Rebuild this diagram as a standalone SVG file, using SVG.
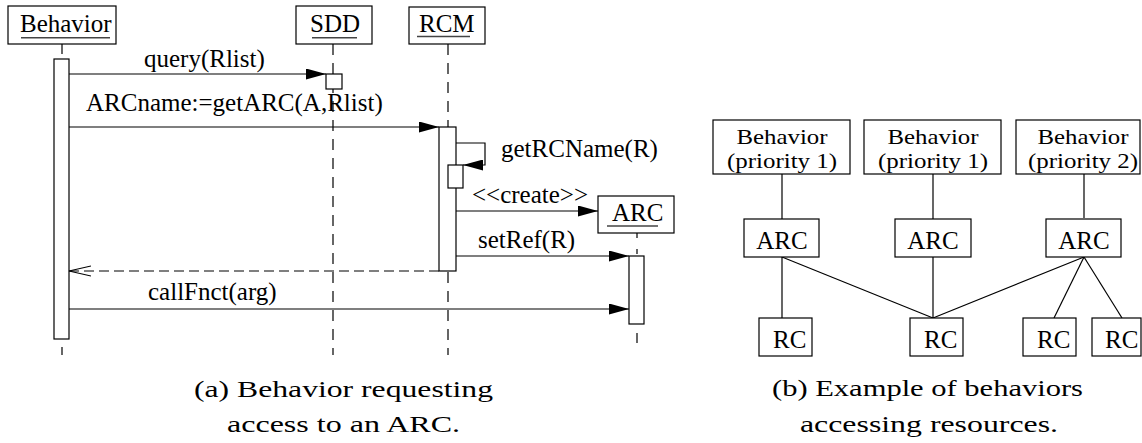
<svg xmlns="http://www.w3.org/2000/svg" width="1142" height="443" viewBox="0 0 1142 443">
  <style>
    .box { fill: #fff; stroke: #000; stroke-width: 1.2; }
    .bar { fill: #fff; stroke: #000; stroke-width: 1.2; }
    .t { font-family: "Liberation Serif", "Times New Roman", serif; font-size: 25px; fill: #000; }
    .tc { font-family: "Liberation Serif", "Times New Roman", serif; font-size: 25px; fill: #000; text-anchor: middle; }
    .tb { font-family: "Liberation Serif", "Times New Roman", serif; font-size: 22px; fill: #000; text-anchor: middle; }
    .cap { font-family: "Liberation Serif", "Times New Roman", serif; font-size: 23px; fill: #000; text-anchor: middle; }
    .ul { stroke: #444; stroke-width: 1.6; }
    .life { stroke: #000; stroke-width: 1.2; stroke-dasharray: 11 8; fill: none; }
    .msg { stroke: #000; stroke-width: 1.2; fill: none; }
    .ret { stroke: #000; stroke-width: 1.2; fill: none; stroke-dasharray: 10 5; }
    .link { stroke: #000; stroke-width: 1.2; fill: none; }
  </style>
  <defs>
    <marker id="solid" viewBox="0 0 20 11" refX="20" refY="5.5" markerWidth="20" markerHeight="11" markerUnits="userSpaceOnUse" orient="auto">
      <path d="M0,0 L20,5.5 L0,11 z" fill="#000"/>
    </marker>
    <marker id="open" viewBox="0 0 24 12" refX="22" refY="6" markerWidth="24" markerHeight="12" markerUnits="userSpaceOnUse" orient="auto">
      <path d="M0,1 L22,6 L0,11" fill="none" stroke="#000" stroke-width="1.2"/>
    </marker>
  </defs>

  <!-- (a) sequence diagram: lifelines drawn first, activation bars on top -->
  <g id="lifelines">
    <line class="msg" x1="62" y1="44" x2="62" y2="54"/>
    <line class="msg" x1="62" y1="347" x2="62" y2="355"/>
    <line class="life" x1="333" y1="44" x2="333" y2="355"/>
    <line class="life" x1="448" y1="44" x2="448" y2="355"/>
    <line class="life" x1="637" y1="233" x2="637" y2="256" style="stroke-dasharray:5 11"/>
    <line class="msg" x1="637" y1="333" x2="637" y2="343"/>
  </g>

  <g id="behavior">
    <rect class="box" x="8" y="6" width="108" height="38"/>
    <text class="t" x="20" y="32">Behavior</text>
    <line class="ul" x1="21" y1="37.7" x2="110" y2="37.7"/>
    <rect class="bar" x="54" y="59" width="15" height="280"/>
  </g>

  <g id="sdd">
    <rect class="box" x="296" y="6" width="76" height="38"/>
    <text class="t" x="310" y="32">SDD</text>
    <line class="ul" x1="312" y1="37.7" x2="357" y2="37.7"/>
    <rect class="bar" x="326" y="74" width="16" height="15"/>
  </g>

  <g id="rcm">
    <rect class="box" x="409" y="7" width="76" height="37"/>
    <text class="t" x="419" y="32">RCM</text>
    <line class="ul" x1="417" y1="36.5" x2="470" y2="36.5"/>
    <rect class="bar" x="439" y="127" width="17" height="144"/>
    <rect class="bar" x="448" y="165" width="15" height="23"/>
  </g>

  <g id="arc">
    <rect class="box" x="598" y="196" width="76" height="37"/>
    <text class="t" x="612" y="221">ARC</text>
    <line class="ul" x1="607" y1="226" x2="658" y2="226"/>
    <rect class="bar" x="629" y="256" width="15" height="68"/>
  </g>

  <g id="messages">
    <line class="msg" x1="69" y1="74" x2="326" y2="74" marker-end="url(#solid)"/>
    <line class="msg" x1="69" y1="127" x2="439" y2="127" marker-end="url(#solid)"/>
    <path class="msg" d="M456,143 H485 V165 H463" marker-end="url(#solid)"/>
    <line class="msg" x1="456" y1="211" x2="598" y2="211" marker-end="url(#solid)"/>
    <line class="msg" x1="456" y1="256" x2="629" y2="256" marker-end="url(#solid)"/>
    <line class="ret" x1="439" y1="271" x2="69" y2="271" marker-end="url(#open)"/>
    <line class="msg" x1="69" y1="309" x2="629" y2="309" marker-end="url(#solid)"/>
  </g>

  <g id="message-labels">
    <text class="t" x="144" y="67">query(Rlist)</text>
    <text class="t" x="86" y="111">ARCname:=getARC(A,Rlist)</text>
    <text class="t" x="501" y="157">getRCName(R)</text>
    <text class="t" x="472" y="203">&lt;&lt;create&gt;&gt;</text>
    <text class="t" x="478" y="248">setRef(R)</text>
    <text class="t" x="148" y="300">callFnct(arg)</text>
  </g>

  <g id="caption-a">
    <text class="cap" x="343.5" y="397" textLength="299" lengthAdjust="spacingAndGlyphs">(a) Behavior requesting</text>
    <text class="cap" x="343.5" y="432" textLength="233" lengthAdjust="spacingAndGlyphs">access to an ARC.</text>
  </g>

  <!-- (b) behaviors, their ARCs and the shared resources -->
  <g id="links">
    <line class="link" x1="782" y1="174" x2="782" y2="219"/>
    <line class="link" x1="933" y1="174" x2="933" y2="219"/>
    <line class="link" x1="1084" y1="174" x2="1084" y2="218"/>
    <line class="link" x1="782" y1="257" x2="782" y2="318"/>
    <line class="link" x1="782" y1="257" x2="933" y2="318"/>
    <line class="link" x1="933" y1="257" x2="933" y2="318"/>
    <line class="link" x1="1084" y1="257" x2="933" y2="318"/>
    <line class="link" x1="1084" y1="257" x2="1054" y2="318"/>
    <line class="link" x1="1084" y1="257" x2="1122" y2="318"/>
  </g>

  <g id="behavior-1">
    <rect class="box" x="713" y="120" width="137" height="54"/>
    <text class="tb" x="782" y="144" textLength="91" lengthAdjust="spacingAndGlyphs">Behavior</text>
    <text class="tb" x="782" y="168" textLength="110" lengthAdjust="spacingAndGlyphs">(priority 1)</text>
  </g>
  <g id="behavior-2">
    <rect class="box" x="864" y="120" width="137" height="54"/>
    <text class="tb" x="933" y="144" textLength="91" lengthAdjust="spacingAndGlyphs">Behavior</text>
    <text class="tb" x="933" y="168" textLength="110" lengthAdjust="spacingAndGlyphs">(priority 1)</text>
  </g>
  <g id="behavior-3">
    <rect class="box" x="1016" y="120" width="124" height="54"/>
    <text class="tb" x="1083" y="144" textLength="91" lengthAdjust="spacingAndGlyphs">Behavior</text>
    <text class="tb" x="1083" y="168" textLength="110" lengthAdjust="spacingAndGlyphs">(priority 2)</text>
  </g>

  <g id="arc-1">
    <rect class="box" x="744" y="219" width="75" height="38"/>
    <text class="tc" x="782" y="249">ARC</text>
  </g>
  <g id="arc-2">
    <rect class="box" x="895" y="219" width="76" height="38"/>
    <text class="tc" x="933" y="249">ARC</text>
  </g>
  <g id="arc-3">
    <rect class="box" x="1046" y="219" width="75" height="38"/>
    <text class="tc" x="1084" y="249">ARC</text>
  </g>

  <g id="rc-1">
    <rect class="box" x="759" y="318" width="53" height="38"/>
    <text class="t" x="773" y="348">RC</text>
  </g>
  <g id="rc-2">
    <rect class="box" x="910" y="318" width="53" height="38"/>
    <text class="t" x="924" y="348">RC</text>
  </g>
  <g id="rc-3">
    <rect class="box" x="1023" y="318" width="53" height="38"/>
    <text class="t" x="1037" y="348">RC</text>
  </g>
  <g id="rc-4">
    <rect class="box" x="1092" y="318" width="49" height="38"/>
    <text class="t" x="1105" y="348">RC</text>
  </g>

  <g id="caption-b">
    <text class="cap" x="927.5" y="396" textLength="311" lengthAdjust="spacingAndGlyphs">(b) Example of behaviors</text>
    <text class="cap" x="929" y="432" textLength="258" lengthAdjust="spacingAndGlyphs">accessing resources.</text>
  </g>
</svg>
